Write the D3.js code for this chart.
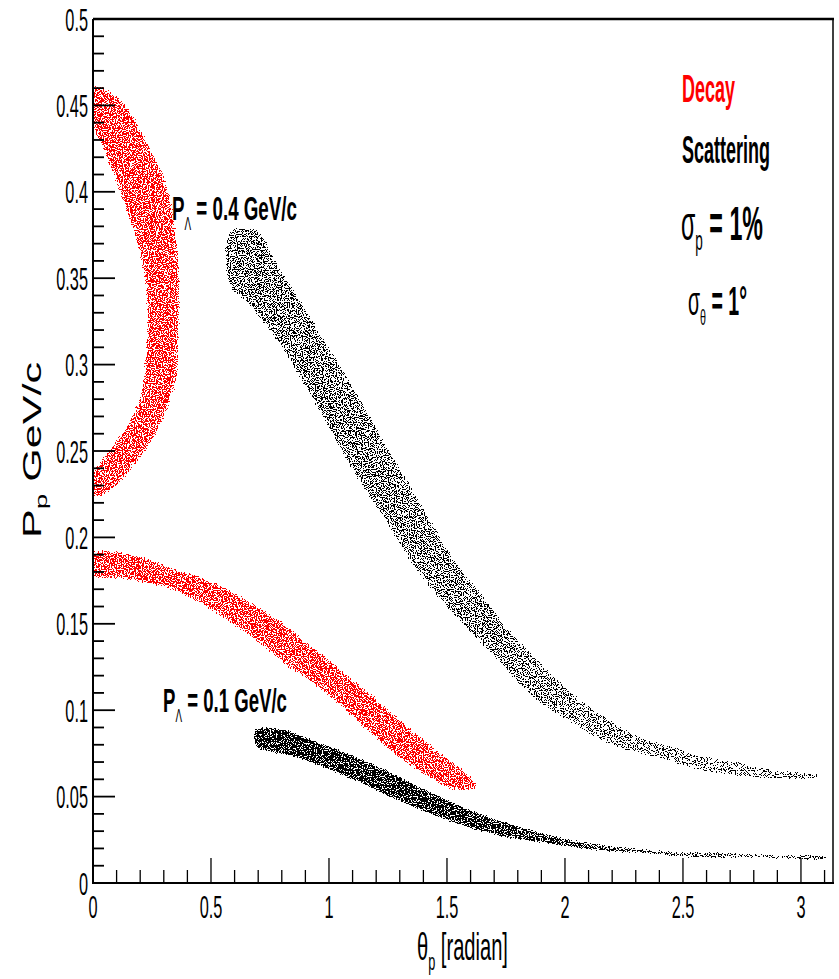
<!DOCTYPE html>
<meta charset="utf-8">
<script src="https://d3js.org/d3.v7.min.js"></script>
<style>body{margin:0;background:#fff}</style>
<div id="chart"></div>
<script>
// Band outlines, [theta_p (radian), P_p (GeV/c)]
// each band: one edge and the other edge, both listed along the band
const decay04Outer = [[0,0.461],[0.030,0.4606],[0.127,0.4514],[0.199,0.4358],[0.271,0.4167],[0.326,0.397],[0.356,0.368],[0.369,0.345],[0.364,0.318],[0.356,0.295],[0.326,0.2795],[0.271,0.262],[0.212,0.249],[0.144,0.237],[0.072,0.2274],[0.017,0.2234],[0,0.2234]];
const decay04Inner = [[0,0.4387],[0.042,0.426],[0.114,0.401],[0.169,0.378],[0.212,0.3565],[0.229,0.330],[0.220,0.301],[0.199,0.281],[0.144,0.264],[0.072,0.2506],[0.017,0.2407],[0,0.239]];

const decay01Upper = [[0,0.191],[0.169,0.190],[0.339,0.182],[0.483,0.1753],[0.623,0.1655],[0.763,0.154],[0.907,0.139],[1.047,0.1233],[1.186,0.1076],[1.331,0.0903],[1.470,0.0752],[1.597,0.0613],[1.627,0.0556]];
const decay01Lower = [[0,0.178],[0.127,0.176],[0.271,0.1726],[0.411,0.1655],[0.551,0.154],[0.695,0.1406],[0.835,0.125],[0.975,0.1117],[1.119,0.0943],[1.258,0.077],[1.398,0.0637],[1.542,0.0538]];

const scat04Upper = [[0.581,0.3762],[0.695,0.3767],[0.763,0.3605],[0.877,0.3356],[0.992,0.3102],[1.102,0.2853],[1.216,0.2581],[1.331,0.2315],[1.441,0.2060],[1.555,0.1811],[1.669,0.1620],[1.754,0.1464],[1.864,0.1308],[2.021,0.1100],[2.161,0.0961],[2.305,0.0845],[2.445,0.0787],[2.585,0.0729],[2.729,0.0694],[2.869,0.0654],[3.068,0.0625]];
const scat04Lower = [[0.581,0.3472],[0.678,0.3333],[0.792,0.3125],[0.907,0.2870],[1.017,0.2604],[1.131,0.2332],[1.246,0.2101],[1.356,0.1852],[1.470,0.1655],[1.568,0.1505],[1.669,0.1366],[1.725,0.1291],[1.852,0.1100],[2.021,0.0943],[2.161,0.0828],[2.305,0.0758],[2.445,0.0712],[2.585,0.0654],[2.729,0.0625],[2.869,0.0608],[3.068,0.0613]];

const scat01Upper = [[0.695,0.0885],[0.792,0.0885],[0.949,0.0810],[1.161,0.0694],[1.373,0.0556],[1.585,0.0422],[1.797,0.0324],[2.008,0.0249],[2.220,0.0208],[2.432,0.0179],[2.644,0.0174],[2.839,0.0162],[3.102,0.0150]];
const scat01Lower = [[0.695,0.0799],[0.877,0.0729],[1.089,0.0613],[1.301,0.0480],[1.513,0.0365],[1.725,0.0278],[1.936,0.0231],[2.148,0.0191],[2.360,0.0174],[2.572,0.0150],[2.839,0.0150],[3.102,0.0139]];

const yTicks = [0, 0.05, 0.1, 0.15, 0.2, 0.25, 0.3, 0.35, 0.4, 0.45, 0.5];
const yTickLabels = ["0", "0.05", "0.1", "0.15", "0.2", "0.25", "0.3", "0.35", "0.4", "0.45", "0.5"];
const xTicks = [0, 0.5, 1, 1.5, 2, 2.5, 3];
const xTickLabels = ["0", "0.5", "1", "1.5", "2", "2.5", "3"];

const width = 839, height = 979;
const FONT = "'Liberation Sans', Arial, Helvetica, sans-serif";

const x = d3.scaleLinear().domain([0, 3.14]).range([93, 834]);
const y = d3.scaleLinear().domain([0, 0.5]).range([883, 19]);

const svg = d3.select("#chart").append("svg")
  .attr("width", width).attr("height", height);
const defs = svg.append("defs");

defs.append("clipPath").attr("id", "plot")
  .append("rect").attr("x", 93).attr("y", 19).attr("width", 740).attr("height", 864);

// speckle filter: noise thresholded against the (softened) shape alpha,
// so lower alpha = sparser dots and the edges thin out
function speckle(id, color, seed, grow, blur) {
  const f = defs.append("filter").attr("id", id)
    .attr("filterUnits", "userSpaceOnUse")
    .attr("x", 0).attr("y", 0).attr("width", width).attr("height", height)
    .attr("color-interpolation-filters", "sRGB");
  f.append("feMorphology").attr("in", "SourceAlpha").attr("operator", "dilate").attr("radius", grow).attr("result", "fat");
  f.append("feGaussianBlur").attr("in", "fat").attr("stdDeviation", blur).attr("result", "soft");
  f.append("feTurbulence").attr("type", "fractalNoise").attr("baseFrequency", 0.85)
    .attr("numOctaves", 1).attr("seed", seed).attr("result", "noise");
  f.append("feColorMatrix").attr("in", "noise").attr("type", "matrix")
    .attr("values", "0 0 0 0 0  0 0 0 0 0  0 0 0 0 0  1 0 0 0 0").attr("result", "na");
  f.append("feComposite").attr("in", "na").attr("in2", "soft").attr("operator", "arithmetic")
    .attr("k1", 0).attr("k2", 1).attr("k3", 1).attr("k4", -1).attr("result", "m");
  const ct = f.append("feComponentTransfer").attr("in", "m").attr("result", "t");
  ct.append("feFuncA").attr("type", "discrete").attr("tableValues", "0 0 1 1 1");
  f.append("feFlood").attr("flood-color", color).attr("result", "c");
  f.append("feComposite").attr("in", "c").attr("in2", "t").attr("operator", "in");
}
speckle("spRed", "#ff0000", 4, 2, 2.2);
speckle("spBlack", "#000000", 11, 2, 1.6);

// density gradients along theta (opacity drives dot density)
function fade(id, stops) {
  const g = defs.append("linearGradient").attr("id", id)
    .attr("gradientUnits", "userSpaceOnUse")
    .attr("x1", x(0)).attr("x2", x(3.14)).attr("y1", 0).attr("y2", 0);
  stops.forEach(s => g.append("stop").attr("offset", s[0] / 3.14).attr("stop-color", "#000").attr("stop-opacity", s[1]));
}
fade("fadeScat04", [[0, 0.89], [0.8, 0.875], [1.7, 0.87], [2.0, 0.855], [2.4, 0.84], [3.14, 0.83]]);
fade("fadeScat01", [[0, 0.985], [1.6, 0.965], [2.0, 0.94], [2.4, 0.9], [2.8, 0.87], [3.14, 0.86]]);

const band = d3.line()
  .x(d => x(d[0])).y(d => y(d[1]))
  .curve(d3.curveCatmullRomClosed.alpha(0.5));
const outline = (a, b) => a.concat(b.slice().reverse());

const plot = svg.append("g").attr("clip-path", "url(#plot)");

const red = plot.append("g").attr("filter", "url(#spRed)");
red.append("path").attr("d", band(outline(decay04Outer, decay04Inner))).attr("fill", "#000").attr("fill-opacity", 0.925);
red.append("path").attr("d", band(outline(decay01Upper, decay01Lower))).attr("fill", "#000").attr("fill-opacity", 0.925);

const black = plot.append("g").attr("filter", "url(#spBlack)");
black.append("path").attr("d", band(outline(scat04Upper, scat04Lower))).attr("fill", "url(#fadeScat04)");
black.append("path").attr("d", band(outline(scat01Upper, scat01Lower))).attr("fill", "url(#fadeScat01)");

// frame
svg.append("line").attr("x1", 93).attr("x2", 834).attr("y1", 19).attr("y2", 19).attr("stroke", "#000").attr("stroke-width", 2.5);
svg.append("line").attr("x1", 833).attr("x2", 833).attr("y1", 19).attr("y2", 883).attr("stroke", "#000").attr("stroke-width", 1.5);
svg.append("line").attr("x1", 93).attr("x2", 93).attr("y1", 19).attr("y2", 884).attr("stroke", "#000").attr("stroke-width", 2);
svg.append("line").attr("x1", 92).attr("x2", 834).attr("y1", 883).attr("y2", 883).attr("stroke", "#000").attr("stroke-width", 2);

// ticks (inside, ROOT style)
svg.append("g").selectAll("line").data(y.ticks(50)).join("line")
  .attr("x1", 93).attr("x2", (d, i) => i % 5 === 0 ? 115 : 104)
  .attr("y1", d => y(d)).attr("y2", d => y(d))
  .attr("stroke", "#000").attr("stroke-width", 1.8);
svg.append("g").selectAll("line").data(x.ticks(31).filter(d => d <= 3.1)).join("line")
  .attr("x1", d => x(d)).attr("x2", d => x(d))
  .attr("y1", 883).attr("y2", (d, i) => i % 5 === 0 ? 858 : 870)
  .attr("stroke", "#000").attr("stroke-width", 1.3);

// tick labels
svg.append("g").selectAll("text").data(yTicks).join("text")
  .attr("transform", d => `translate(88,${y(d) + 11.5}) scale(0.51,1)`)
  .attr("text-anchor", "end").attr("font-family", FONT).attr("font-size", 32)
  .text((d, i) => yTickLabels[i]);
svg.append("g").selectAll("text").data(xTicks).join("text")
  .attr("transform", d => `translate(${x(d)},918) scale(0.51,1)`)
  .attr("text-anchor", "middle").attr("font-family", FONT).attr("font-size", 32)
  .text((d, i) => xTickLabels[i]);

// text squeezed to a target width
function label(px, py, w, size, parts, color) {
  const t = svg.append("text").attr("font-family", FONT).attr("font-size", size)
    .attr("fill", color || "#000");
  parts.forEach(p => {
    const s = t.append("tspan").text(p.t)
      .attr("font-weight", p.w || "bold")
      .attr("font-size", p.s || size);
    if (p.dy) s.attr("dy", p.dy);
  });
  const nat = t.node().getComputedTextLength();
  t.attr("transform", `translate(${px},${py}) scale(${w / nat},1)`);
  return t;
}

label(682, 102, 53, 38, [{t: "Decay"}], "#ff0000");
label(682, 163, 88, 38, [{t: "Scattering"}]);
label(681, 240, 82, 48, [{t: "σ", w: "normal"}, {t: "p", w: "normal", s: 28, dy: 10}, {t: " = 1%", dy: -10}]);
label(688, 315, 59, 40, [{t: "σ", w: "normal"}, {t: "θ", w: "normal", s: 22, dy: 10}, {t: " = 1°", dy: -10}]);

label(172, 220, 125, 34, [{t: "P"}, {t: "Λ", w: "normal", s: 18, dy: 10}, {t: " = 0.4 GeV/c", dy: -10}]);
label(163, 712, 124, 34, [{t: "P"}, {t: "Λ", w: "normal", s: 18, dy: 10}, {t: " = 0.1 GeV/c", dy: -10}]);

label(417, 960, 91, 38, [{t: "θ", w: "normal"}, {t: "p", w: "normal", s: 24, dy: 10}, {t: " [radian]", w: "normal", dy: -10}]);

// y axis title, rotated
const yt = svg.append("text").attr("font-family", FONT).attr("font-size", 40);
yt.append("tspan").text("P");
yt.append("tspan").text("p").attr("font-size", 26).attr("dy", 9);
yt.append("tspan").text("  GeV/c").attr("dy", -9);
const ytLen = yt.node().getComputedTextLength();
yt.attr("transform", `translate(41,538) scale(0.63,${176 / ytLen}) rotate(-90)`);
</script>
